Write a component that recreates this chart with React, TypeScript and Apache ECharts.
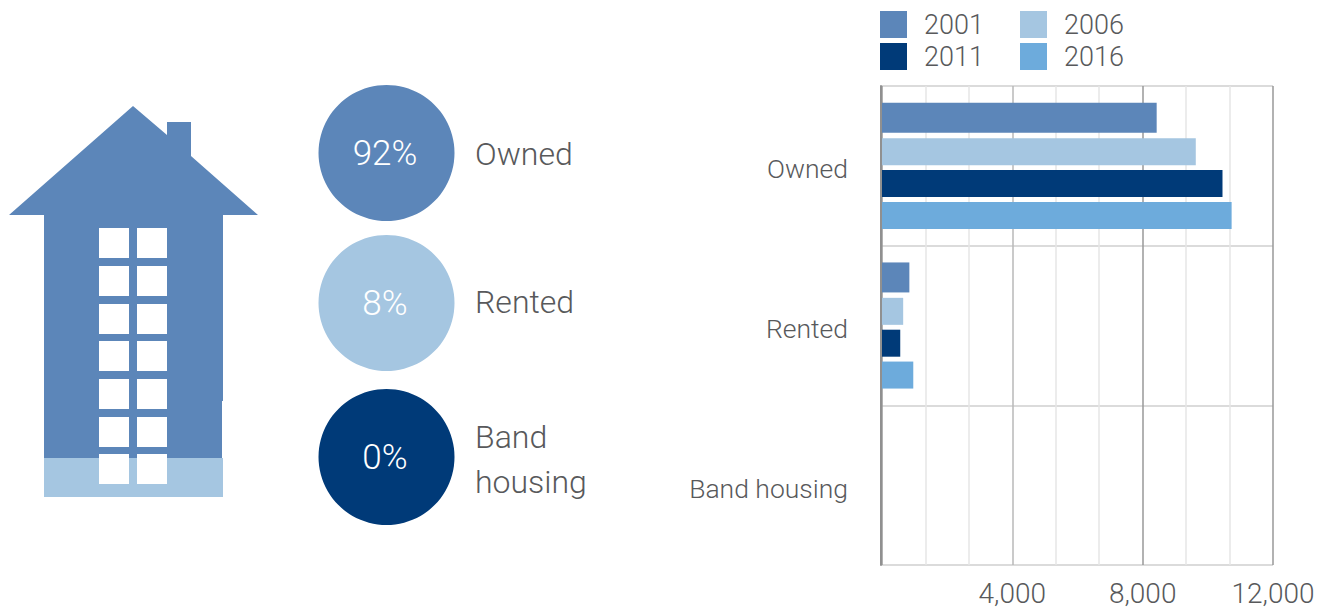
import React, { useEffect, useRef } from "react";
import * as echarts from "echarts";

const categories = ["Owned", "Rented", "Band housing"];
const years = ["2001", "2006", "2011", "2016"];
const values2001 = [8430, 840, 0];
const values2006 = [9630, 650, 0];
const values2011 = [10450, 560, 0];
const values2016 = [10730, 960, 0];
const shareLabels = ["92%", "8%", "0%"];
const shareNames = ["Owned", "Rented", "Band\nhousing"];
const xTickLabels = ["4,000", "8,000", "12,000"];

const COLORS = ["#5c86b9", "#a5c6e1", "#003a78", "#6dabdc"];
const FONT = "Roboto";
const TEXT = "#58595b";
const WINDOW_TOPS = [228, 266, 304, 341, 379, 417, 454];
const WINDOW_LEFTS = [99, 137];
const CIRCLE_Y = [153, 303, 457];
const NAME_Y = [154, 302, 459];

export default function App() {
  const ref = useRef<HTMLDivElement>(null);
  useEffect(() => {
    document.body.style.margin = "0";
    const chart = echarts.init(ref.current!, null, { renderer: "svg" });
    const seriesValues = [values2001, values2006, values2011, values2016];
    const legendStyle = {
      orient: "vertical" as const,
      top: 11,
      itemWidth: 27,
      itemHeight: 27,
      itemGap: 5,
      icon: "rect",
      selectedMode: false,
      textStyle: { fontFamily: FONT, fontWeight: 300, fontSize: 27, color: TEXT, padding: [0, 0, 0, 12] },
      padding: 0,
    };
    const windows: any[] = [];
    WINDOW_TOPS.forEach((y) =>
      WINDOW_LEFTS.forEach((x) =>
        windows.push({ type: "rect", z: 3, shape: { x, y, width: 30, height: 30 }, style: { fill: "#fff" } })
      )
    );
    const circles: any[] = [];
    CIRCLE_Y.forEach((y, i) => {
      circles.push({ type: "circle", shape: { cx: 386.5, cy: y, r: 68 }, style: { fill: COLORS[i] } });
      circles.push({
        type: "text", x: 385, y, z: 3,
        style: { text: shareLabels[i], fill: "#fff", font: `300 35px ${FONT}`, textAlign: "center", textVerticalAlign: "middle" },
      });
      circles.push({
        type: "text", x: 475, y: NAME_Y[i],
        style: { text: shareNames[i], fill: TEXT, font: `300 32px ${FONT}`, lineHeight: 45, textAlign: "left", textVerticalAlign: "middle" },
      });
    });
    chart.setOption({
      animation: false,
      backgroundColor: "#fff",
      grid: { left: 882, right: 55, top: 86, bottom: 43, containLabel: false },
      legend: [
        { ...legendStyle, left: 880, data: ["2001", "2011"] },
        { ...legendStyle, left: 1020, data: ["2006", "2016"] },
      ],
      xAxis: {
        type: "value", min: 0, max: 12000, interval: 4000, position: "bottom",
        axisLine: { show: false },
        axisTick: { show: false },
        axisLabel: {
          fontFamily: FONT, fontWeight: 300, fontSize: 28, color: TEXT, margin: 14, hideOverlap: false, showMinLabel: true,
          formatter: (v: number) => (v === 0 ? "" : xTickLabels[v / 4000 - 1]),
        },
        splitLine: { show: true, lineStyle: { color: ["#999", "#b8b8b8", "#999", "#999"], width: 1.5 } },
        minorTick: { show: false, splitNumber: 3 },
        minorSplitLine: { show: true, lineStyle: { color: "#e6e6e6", width: 1.5 } },
      },
      yAxis: [
        {
          type: "category", inverse: true, data: categories,
          axisLine: { show: false },
          axisTick: { show: false },
          axisLabel: { fontFamily: FONT, fontWeight: 300, fontSize: 26.5, color: TEXT, margin: 34, verticalAlign: "top", lineHeight: 6 },
          splitLine: { show: true, lineStyle: { color: "#cfcfcf", width: 1.5 } },
        },
        {
          type: "category", inverse: true, data: categories, position: "left", offset: 1, z: 6,
          axisLine: { show: true, lineStyle: { color: "#909090", width: 2 } },
          axisTick: { show: false },
          axisLabel: { show: false },
          splitLine: { show: false },
        },
      ],
      series: years.map((y, i) => ({
        name: y, type: "bar", data: seriesValues[i], barWidth: i === 0 ? 30 : 27, barGap: "18%",
        itemStyle: { color: COLORS[i] }, z: 3,
      })),
      graphic: [
        {
          type: "polygon",
          shape: { points: [[133, 106], [167, 135], [167, 122], [191, 122], [191, 156], [258, 215], [223, 215], [223, 401], [222, 401], [222, 458], [44, 458], [44, 215], [9, 215]] },
          style: { fill: COLORS[0] },
        },
        { type: "rect", shape: { x: 44, y: 458, width: 179, height: 39 }, style: { fill: COLORS[1] } },
        ...windows,
        ...circles,
      ],
    });
    return () => chart.dispose();
  }, []);
  return <div ref={ref} style={{ width: 1328, height: 608 }} />;
}
